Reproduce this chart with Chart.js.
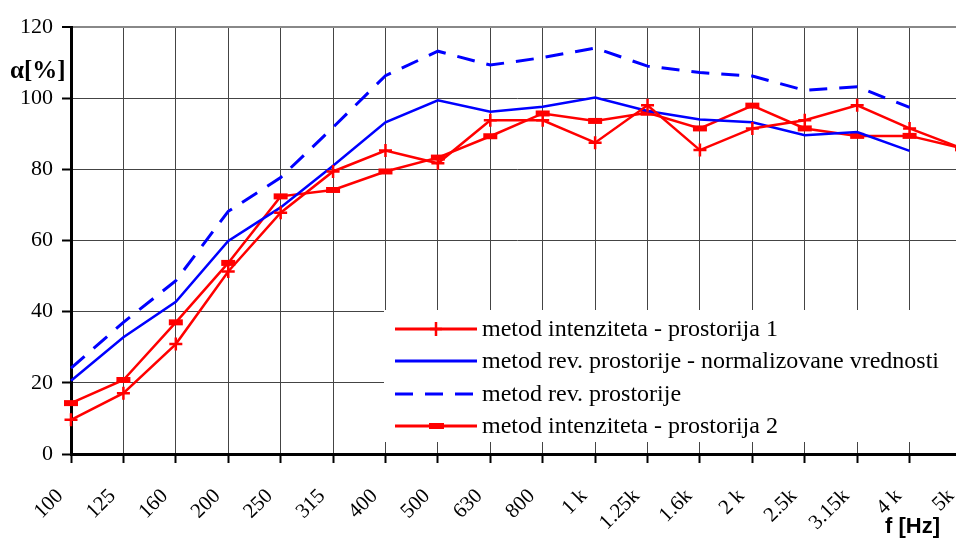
<!DOCTYPE html>
<html>
<head>
<meta charset="utf-8">
<script src="https://cdn.jsdelivr.net/npm/chart.js@4.4.1/dist/chart.umd.min.js"></script>
<style>
  html, body { margin: 0; padding: 0; background: #fff; overflow: hidden; }
  #wrap { width: 956px; height: 539px; overflow: hidden; }
</style>
</head>
<body>
<!-- the original is cut off on the right (5k sits just past the edge), so the canvas is a bit wider than the window -->
<div id="wrap"><canvas id="chart" width="975" height="539"></canvas></div>
<script>
// frequency bands (third octave)
const categories = ['100', '125', '160', '200', '250', '315', '400', '500', '630', '800',
                    '1 k', '1.25k', '1.6k', '2 k', '2.5k', '3.15k', '4 k', '5k'];
const yTicks = [0, 20, 40, 60, 80, 100, 120];

// absorption coefficient alpha [%]
const intenzitet1 = [9.6, 17.1, 30.9, 51.3, 67.8, 79.4, 85.3, 81.7, 93.8, 93.8,
                     87.5, 98.0, 85.4, 91.5, 93.8, 98.0, 91.5, 85.9];
const revNormalizovane = [20.6, 32.8, 42.8, 59.9, 69.3, 81.0, 93.2, 99.4, 96.2, 97.6,
                          100.2, 96.4, 94.0, 93.2, 89.6, 90.5, 85.2, null];
const revProstorija = [24.1, 37.0, 48.7, 68.2, 77.7, 91.8, 106.3, 113.2, 109.3, 111.4,
                       114.1, 109.0, 107.2, 106.2, 102.2, 103.2, 97.4, null];
const intenzitet2 = [14.3, 20.8, 37.0, 53.7, 72.4, 74.2, 79.4, 83.3, 89.3, 95.7,
                     93.6, 95.9, 91.5, 97.9, 91.5, 89.4, 89.4, 85.9];

const labels = ['metod intenziteta - prostorija 1',
                'metod rev. prostorije - normalizovane vrednosti',
                'metod rev. prostorije',
                'metod intenziteta - prostorija 2'];

const RED = '#ff0000';
const BLUE = '#0000ff';
const SERIF = "'Liberation Serif', 'Times New Roman', serif";
const SANS = "'Liberation Sans', Arial, sans-serif";

// legend box + axis titles, drawn inside the plot like the original
const extras = {
  id: 'extras',
  afterDraw(chart){
    const ctx = chart.ctx;
    ctx.save();
    // legend box
    const bx = 384, by = 310, bw = 600, bh = 132;
    ctx.fillStyle = '#fff';
    ctx.fillRect(bx, by, bw, bh);
    const rows = [329, 361, 394, 426];
    chart.data.datasets.forEach(function(ds, i){
      const y = rows[i];
      ctx.strokeStyle = ds.borderColor;
      ctx.lineWidth = 3;
      ctx.setLineDash(ds.borderDash || []);
      ctx.beginPath();
      ctx.moveTo(395, y);
      ctx.lineTo(477, y);
      ctx.stroke();
      ctx.setLineDash([]);
      if(ds.pointStyle === 'cross'){
        ctx.lineWidth = 2.5;
        ctx.beginPath();
        ctx.moveTo(436 - 6, y); ctx.lineTo(436 + 6, y);
        ctx.moveTo(436, y - 7); ctx.lineTo(436, y + 7);
        ctx.stroke();
      } else if(ds.pointStyle === 'line'){
        ctx.fillStyle = ds.borderColor;
        ctx.fillRect(429, y - 3, 15, 6);
      }
      ctx.fillStyle = '#000';
      ctx.font = '24px ' + SERIF;
      ctx.textAlign = 'left';
      ctx.textBaseline = 'middle';
      ctx.fillText(ds.label, 482, y + 1);
    });
    // axis titles
    ctx.fillStyle = '#000';
    ctx.font = 'bold 25px ' + SERIF;
    ctx.textAlign = 'left';
    ctx.textBaseline = 'middle';
    ctx.fillText('α[%]', 10, 72);
    ctx.font = 'bold 22px ' + SANS;
    ctx.fillText('f [Hz]', 885, 527);
    ctx.restore();
  }
};

const ctx = document.getElementById('chart');
const myChart = new Chart(ctx, {
  type: 'line',
  plugins: [extras],
  data: {
    labels: categories,
    datasets: [{
      label: labels[0],
      data: intenzitet1,
      borderColor: RED,
      backgroundColor: RED,
      borderWidth: 2.5,
      pointStyle: 'cross',
      pointRadius: 6.5,
      pointBorderWidth: 2.5,
      tension: 0
    },{
      label: labels[1],
      data: revNormalizovane,
      borderColor: BLUE,
      backgroundColor: BLUE,
      borderWidth: 2.5,
      pointRadius: 0,
      tension: 0
    },{
      label: labels[2],
      data: revProstorija,
      borderColor: BLUE,
      backgroundColor: BLUE,
      borderWidth: 3,
      borderDash: [18, 12],
      pointRadius: 0,
      tension: 0
    },{
      label: labels[3],
      data: intenzitet2,
      borderColor: RED,
      backgroundColor: RED,
      borderWidth: 2.5,
      pointStyle: 'line',
      pointRadius: 7,
      pointBorderWidth: 6,
      tension: 0
    }]
  },
  options: {
    responsive: false,
    animation: false,
    events: [],
    layout: {
      padding: {top: 27, right: 0, left: 0, bottom: 0}
    },
    plugins: {
      legend: {display: false},
      tooltip: {enabled: false}
    },
    scales: {
      x: {
        type: 'category',
        offset: false,
        afterFit: function(scale){
          scale.height = 85;
          scale.paddingRight = 0;
        },
        grid: {
          color: '#444',
          lineWidth: 1,
          tickLength: 9,
          tickColor: '#000',
          tickWidth: 2
        },
        border: {color: '#000', width: 3},
        ticks: {
          autoSkip: false,
          maxRotation: 45,
          minRotation: 45,
          padding: 21,
          labelOffset: -11,
          color: '#000',
          font: {family: SERIF, size: 21}
        }
      },
      y: {
        min: 0,
        max: 120,
        afterFit: function(scale){
          scale.width = 71;
        },
        afterBuildTicks: function(scale){
          scale.ticks = yTicks.map(v => ({value: v}));
        },
        grid: {
          color: c => c.tick && c.tick.value === 120 ? '#888' : '#444',
          lineWidth: c => c.tick && c.tick.value === 120 ? 2 : 1,
          tickLength: 9,
          tickColor: '#000',
          tickWidth: 2
        },
        border: {color: '#000', width: 3},
        ticks: {
          padding: 9,
          color: '#000',
          font: {family: SERIF, size: 22}
        }
      }
    }
  }
});
</script>
</body>
</html>
